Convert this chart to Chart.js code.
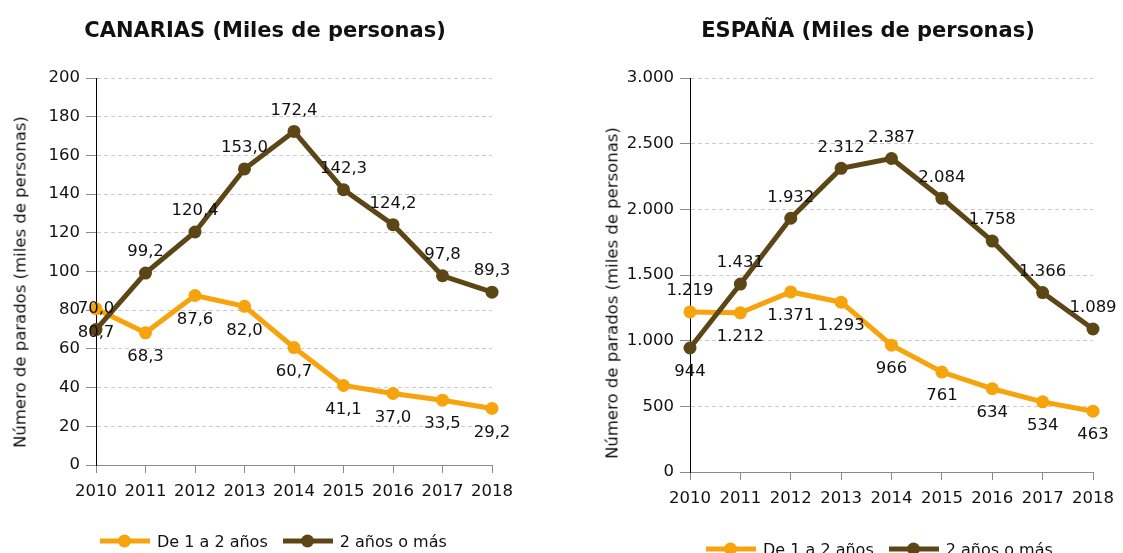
<!DOCTYPE html>
<html lang="es">
<head>
<meta charset="utf-8">
<title>Parados de larga duración</title>
<script src="https://cdn.jsdelivr.net/npm/chart.js@4/dist/chart.umd.min.js"></script>
<style>
  html, body { margin: 0; padding: 0; background: #fff; }
  body {
    width: 1123px; height: 553px; overflow: hidden; position: relative;
    font-family: "DejaVu Sans", sans-serif; color: #111;
  }
  .panel { position: absolute; top: 0; }
  .title {
    position: absolute; font-weight: bold; font-size: 21px; white-space: nowrap;
    transform: translate(-50%, -50%);
  }
  .ycap {
    position: absolute; font-size: 16.5px; white-space: nowrap;
    transform: translate(-50%, -50%) rotate(-90deg);
  }
  .legend {
    position: absolute; display: flex; align-items: center; font-size: 16px;
    white-space: nowrap; transform: translateY(-50%);
  }
  .item { display: flex; align-items: center; margin-right: 15px; }
  .key { position: relative; display: inline-block; width: 50px; height: 5px; margin-right: 7px; }
  .key::after {
    content: ""; position: absolute; left: 18px; top: -4px; width: 13px; height: 13px;
    border-radius: 50%; background: inherit;
  }
</style>
</head>
<body>
  <canvas id="canarias" class="panel" style="left:0" width="560" height="553"></canvas>
  <canvas id="espana" class="panel" style="left:560px" width="563" height="561"></canvas>

  <div class="title" style="left:265px; top:30px">CANARIAS (Miles de personas)</div>
  <div class="title" style="left:868px; top:30px">ESPAÑA (Miles de personas)</div>

  <div class="ycap" style="left:20px; top:282px">Número de parados (miles de personas)</div>
  <div class="ycap" style="left:612px; top:293px">Número de parados (miles de personas)</div>

  <div class="legend" id="legendCanarias" style="left:100px; top:541px"></div>
  <div class="legend" id="legendEspana" style="left:706px; top:549px"></div>

<script>
// Years on the x axis
const years = ['2010', '2011', '2012', '2013', '2014', '2015', '2016', '2017', '2018'];

// Series names
const seriesNames = ['De 1 a 2 años', '2 años o más'];

// Canarias, thousands of people
const canariasDe1a2 = [80.7, 68.3, 87.6, 82.0, 60.7, 41.1, 37.0, 33.5, 29.2];
const canarias2oMas = [70.0, 99.2, 120.4, 153.0, 172.4, 142.3, 124.2, 97.8, 89.3];

// España, thousands of people
const espanaDe1a2 = [1219, 1212, 1371, 1293, 966, 761, 634, 534, 463];
const espana2oMas = [944, 1431, 1932, 2312, 2387, 2084, 1758, 1366, 1089];

// Value axis tick values
const canariasTicks = [0, 20, 40, 60, 80, 100, 120, 140, 160, 180, 200];
const espanaTicks = [0, 500, 1000, 1500, 2000, 2500, 3000];

// Which side of its point each value label sits on (-1 above, 1 below)
const canariasSideDe1a2 = [1, 1, 1, 1, 1, 1, 1, 1, 1];
const canariasSide2oMas = [-1, -1, -1, -1, -1, -1, -1, -1, -1];
const espanaSideDe1a2 = [-1, 1, 1, 1, 1, 1, 1, 1, 1];
const espanaSide2oMas = [1, -1, -1, -1, -1, -1, -1, -1, -1];

const COLORS = ['#F7A30D', '#5D4616'];
const FONT = '"DejaVu Sans", sans-serif';
const INK = '#111111';
const TEXT_SIZE = 16.5;

// Spanish number formats
const fmtDecimal = v => v.toFixed(1).replace('.', ',');
const fmtThousands = v => String(Math.round(v)).replace(/\B(?=(\d{3})+(?!\d))/g, '.');

// Draws each point's value above or below it
const valueLabels = {
  id: 'valueLabels',
  afterDatasetsDraw(chart, args, opts) {
    const ctx = chart.ctx;
    ctx.save();
    ctx.font = opts.font;
    ctx.fillStyle = opts.color;
    ctx.textAlign = 'center';
    ctx.textBaseline = 'middle';
    chart.data.datasets.forEach((ds, di) => {
      const meta = chart.getDatasetMeta(di);
      meta.data.forEach((pt, i) => {
        const dy = ds.labelSide[i] < 0 ? -opts.above : opts.below;
        ctx.fillText(opts.format(ds.data[i]), pt.x, pt.y + dy);
      });
    });
    ctx.restore();
  }
};

function makeDataset(label, data, color, side, order) {
  return {
    label, data, labelSide: side, order,
    borderColor: color, backgroundColor: color,
    borderWidth: 5, tension: 0, fill: false, clip: false,
    pointRadius: 6.5, pointHoverRadius: 6.5,
    pointBackgroundColor: color, pointBorderColor: color, pointBorderWidth: 0
  };
}

function buildChart(id, cfg) {
  const ticks = cfg.ticks;
  return new Chart(document.getElementById(id), {
    type: 'line',
    data: {
      labels: years,
      datasets: [
        makeDataset(seriesNames[0], cfg.de1a2, COLORS[0], cfg.sideDe1a2, 1),
        makeDataset(seriesNames[1], cfg.oMas, COLORS[1], cfg.side2oMas, 0)
      ]
    },
    options: {
      responsive: false,
      animation: false,
      events: [],
      layout: { padding: cfg.padding },
      plugins: {
        legend: { display: false },
        title: { display: false },
        tooltip: { enabled: false },
        valueLabels: {
          font: TEXT_SIZE + 'px ' + FONT, color: INK, above: 21, below: 24, format: cfg.fmtValue
        }
      },
      scales: {
        x: {
          offset: false,
          ticks: { color: INK, font: { family: FONT, size: TEXT_SIZE }, padding: 9, maxRotation: 0, autoSkip: false },
          grid: { drawOnChartArea: false, drawTicks: true, tickLength: 8, tickColor: '#8a8a8a', color: '#8a8a8a' },
          border: { display: true, color: '#8a8a8a', width: 1 },
          afterFit(scale) { scale.height = 40; }
        },
        y: {
          min: ticks[0], max: ticks[ticks.length - 1],
          afterBuildTicks(scale) { scale.ticks = ticks.map(v => ({ value: v })); },
          ticks: { color: INK, font: { family: FONT, size: TEXT_SIZE }, padding: 6, callback: v => cfg.fmtTick(v) },
          grid: { color: '#cccccc', lineWidth: 1, drawTicks: true, tickLength: 10, tickColor: '#8a8a8a', tickBorderDash: [] },
          border: { display: true, color: '#000000', width: 1, dash: [4, 3] },
          afterFit(scale) { scale.width = cfg.yWidth; }
        }
      }
    },
    plugins: [valueLabels]
  });
}

buildChart('canarias', {
  de1a2: canariasDe1a2, oMas: canarias2oMas,
  sideDe1a2: canariasSideDe1a2, side2oMas: canariasSide2oMas,
  ticks: canariasTicks,
  fmtTick: v => String(v), fmtValue: fmtDecimal,
  yWidth: 96,
  padding: { left: 0, right: 68, top: 78, bottom: 48 }
});

buildChart('espana', {
  de1a2: espanaDe1a2, oMas: espana2oMas,
  sideDe1a2: espanaSideDe1a2, side2oMas: espanaSide2oMas,
  ticks: espanaTicks,
  fmtTick: fmtThousands, fmtValue: fmtThousands,
  yWidth: 130,
  padding: { left: 0, right: 26, top: 78, bottom: 49 }
});

// Legends: a line with a dot, followed by the series name
function buildLegend(id) {
  const box = document.getElementById(id);
  seriesNames.forEach((name, i) => {
    const item = document.createElement('span');
    item.className = 'item';
    const key = document.createElement('span');
    key.className = 'key';
    key.style.background = COLORS[i];
    const txt = document.createElement('span');
    txt.textContent = name;
    item.appendChild(key);
    item.appendChild(txt);
    box.appendChild(item);
  });
}
buildLegend('legendCanarias');
buildLegend('legendEspana');
</script>
</body>
</html>
